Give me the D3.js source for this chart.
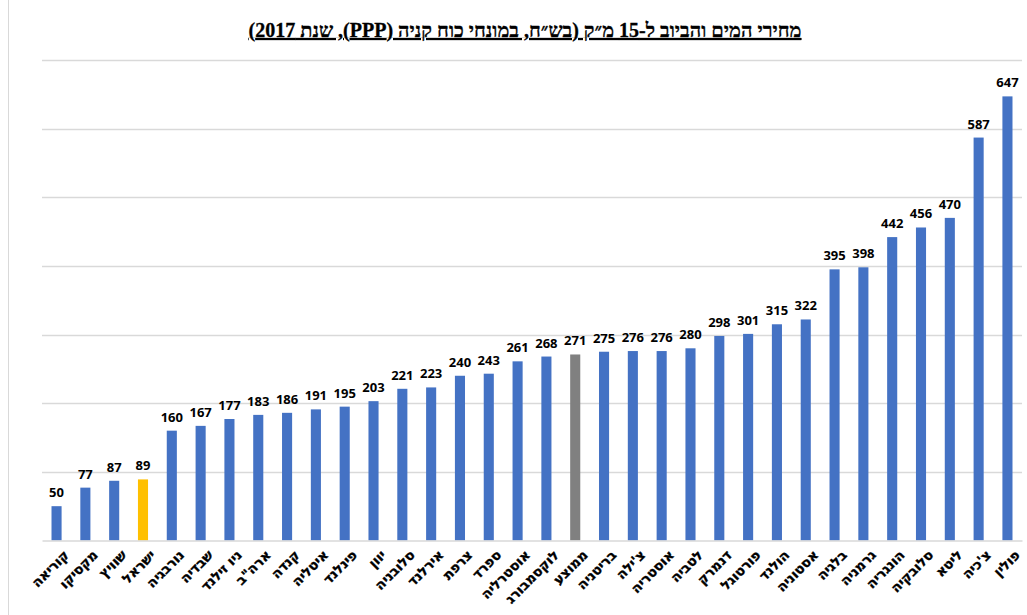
<!DOCTYPE html>
<html>
<head>
<meta charset="utf-8">
<script src="https://cdn.jsdelivr.net/npm/d3@7"></script>
<style>
  body { margin: 0; background: #fff; }
</style>
</head>
<body>
<div id="chart"></div>
<script>
const countries = ['קוריאה', 'מקסיקו', 'שוויץ', 'ישראל', 'נורבגיה', 'שבדיה', 'ניו זילנד', 'ארה"ב', 'קנדה', 'איטליה',
  'פינלנד', 'יוון', 'סלובניה', 'אירלנד', 'צרפת', 'ספרד', 'אוסטרליה', 'לוקסמבורג', 'ממוצע', 'בריטניה',
  "צ'ילה", 'אוסטריה', 'לטביה', 'דנמרק', 'פורטוגל', 'הולנד', 'אסטוניה', 'בלגיה', 'גרמניה', 'הונגריה',
  'סלובקיה', 'ליטא', "צ'כיה", 'פולין'];
const prices = [50, 77, 87, 89, 160, 167, 177, 183, 186, 191,
  195, 203, 221, 223, 240, 243, 261, 268, 271, 275,
  276, 276, 280, 298, 301, 315, 322, 395, 398, 442,
  456, 470, 587, 647];
const yTicks = [0, 100, 200, 300, 400, 500, 600, 700];
const title = 'מחירי המים והביוב ל-15 מ״ק (בש״ח, במונחי כוח קניה (PPP), שנת 2017)';

const width = 1027, height = 615;
const margin = { top: 60, right: 5, bottom: 74, left: 42 };

const svg = d3.select('#chart')
  .append('svg')
  .attr('width', width)
  .attr('height', height);

// chart border on the left
svg.append('line')
  .attr('x1', 8.5).attr('x2', 8.5)
  .attr('y1', 0).attr('y2', height)
  .style('stroke', '#d9d9d9');

const x = d3.scaleBand()
  .domain(countries)
  .range([margin.left, width - margin.right])
  .paddingInner(0.65)
  .paddingOuter(0.33);

const y = d3.scaleLinear()
  .domain([0, 700])
  .range([height - margin.bottom - 0.5, margin.top]);

//gridlines
svg.append('g')
  .selectAll('line')
  .data(yTicks.slice(1))
  .enter().append('line')
  .attr('x1', margin.left)
  .attr('x2', width - margin.right)
  .attr('y1', function (d) { return Math.round(y(d)) + 0.5; })
  .attr('y2', function (d) { return Math.round(y(d)) + 0.5; })
  .style('stroke', '#d9d9d9')
  .style('stroke-width', 1.5);

//bars
svg.append('g')
  .selectAll('rect')
  .data(countries)
  .enter().append('rect')
  .attr('x', function (d) { return x(d); })
  .attr('width', x.bandwidth())
  .attr('y', function (d, i) { return y(prices[i]); })
  .attr('height', function (d, i) { return y(0) - y(prices[i]); })
  .style('fill', function (d) {
    if (d === 'ישראל') return '#FFC000';
    if (d === 'ממוצע') return '#808080';
    return '#4472C4';
  });

//axis baseline + labels
const xAxis = svg.append('g')
  .attr('transform', 'translate(0,' + y(0) + ')')
  .call(d3.axisBottom(x).tickSize(0).tickPadding(0));

xAxis.select('.domain')
  .style('stroke', '#d9d9d9')
  .style('stroke-width', 1.5);

xAxis.selectAll('.tick text')
  .attr('transform', 'translate(10,12) rotate(-45)')
  .attr('text-anchor', 'end')
  .attr('dy', '0.35em')
  .style('font-family', '"DejaVu Sans", "Liberation Sans", sans-serif')
  .style('font-size', '13.5px')
  .style('font-weight', 'bold')
  .style('fill', '#000')
  .style('stroke', '#000')
  .style('stroke-width', 0.35);

//value labels
svg.append('g')
  .selectAll('text')
  .data(countries)
  .enter().append('text')
  .attr('x', function (d) { return x(d) + x.bandwidth() / 2; })
  .attr('y', function (d, i) { return y(prices[i]) - 9; })
  .attr('text-anchor', 'middle')
  .style('font-family', '"Open Sans", "Liberation Sans", sans-serif')
  .style('font-size', '13px')
  .style('font-weight', 'bold')
  .style('fill', '#000')
  .text(function (d, i) { return prices[i]; });

//title
svg.append('text')
  .attr('x', 525)
  .attr('y', 37)
  .attr('text-anchor', 'middle')
  .attr('direction', 'rtl')
  .style('font-family', '"Liberation Serif", "Times New Roman", serif')
  .style('font-size', '20px')
  .style('font-weight', 'bold')
  .style('text-decoration', 'underline')
  .style('stroke', '#000')
  .style('stroke-width', 0.3)
  .text(title);
</script>
</body>
</html>
